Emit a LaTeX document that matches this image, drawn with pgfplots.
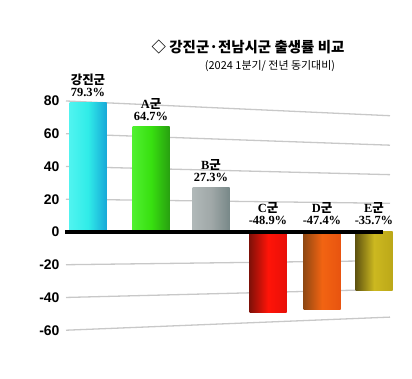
\documentclass[border=0pt]{standalone}
\usepackage{fontspec}
\usepackage{pgfplots}
\pgfplotsset{compat=1.18}
\setmainfont{Liberation Serif}
\setsansfont{Liberation Sans}
\newfontfamily\cjk{Noto Sans CJK KR}
\definecolor{gridc}{HTML}{C8C8C8}
\definecolor{cyL}{HTML}{50F4F0}
\definecolor{cyM}{HTML}{30ECE8}
\definecolor{cyR}{HTML}{18A8D8}
\definecolor{grL}{HTML}{50F030}
\definecolor{grM}{HTML}{38E010}
\definecolor{grR}{HTML}{28A010}
\definecolor{gyL}{HTML}{B0B8B8}
\definecolor{gyM}{HTML}{A0A8A8}
\definecolor{gyR}{HTML}{788888}
\definecolor{rdL}{HTML}{801008}
\definecolor{rdM}{HTML}{FF1408}
\definecolor{rdR}{HTML}{E81008}
\definecolor{orL}{HTML}{904812}
\definecolor{orM}{HTML}{F26412}
\definecolor{orR}{HTML}{E85410}
\definecolor{ylL}{HTML}{605410}
\definecolor{ylM}{HTML}{CCB820}
\definecolor{ylR}{HTML}{BCA818}
\begin{document}
\begin{tikzpicture}
\path[use as bounding box] (0,0) rectangle (412bp,379bp);
\begin{axis}[
  at={(65bp,40.6bp)}, anchor=south west,
  scale only axis, width=330bp, height=253.8bp,
  xmin=65, xmax=395, ymin=-65, ymax=90,
  axis line style={draw=none},
  xtick=\empty,
  ytick={-60,-40,-20,0,20,40,60,80},
  major tick length=0pt,
  yticklabel style={font=\fontsize{14}{14}\selectfont\sffamily\bfseries, xshift=-2bp},
  /pgf/number format/assume math mode=true,
  clip=false,
  ybar, bar width=37, bar shift=0pt,
]
% sloped grid lines
\foreach \v/\w in {80/71,60/53,40/35,20/17.5,-20/-17.5,-40/-35,-60/-52} {
  \edef\tmp{\noexpand\addplot[sharp plot, draw=gridc, line width=1.3bp, forget plot] coordinates {(66,\v) (390,\w)};}
  \tmp
}
\addplot[draw=none, left color=cyL, right color=cyR, middle color=cyM] coordinates {(88,79.3)};
\addplot[draw=none, left color=grL, right color=grR, middle color=grM] coordinates {(151,64.7)};
\addplot[draw=none, left color=gyL, right color=gyR, middle color=gyM] coordinates {(211,27.3)};
\addplot[draw=none, left color=rdL, right color=rdR, middle color=rdM] coordinates {(268,-48.9)};
\addplot[draw=none, left color=orL, right color=orR, middle color=orM] coordinates {(322,-47.4)};
\addplot[draw=none, left color=ylL, right color=ylR, middle color=ylM] coordinates {(374,-35.7)};
% zero line
\addplot[sharp plot, draw=black, line width=3.5bp] coordinates {(65,0) (383,0)};
\def\lf{\fontsize{12.5}{15.5}\selectfont\bfseries}
\node[anchor=south, align=center, inner sep=1bp, yshift=4bp] at (axis cs:88,79.3) {\lf{\cjk 강진군}\\\lf 79.3\%};
\node[anchor=south, align=center, inner sep=1bp, yshift=4bp] at (axis cs:151,64.7) {\lf A{\cjk 군}\\\lf 64.7\%};
\node[anchor=south, align=center, inner sep=1bp, yshift=4bp] at (axis cs:211,27.3) {\lf B{\cjk 군}\\\lf 27.3\%};
\node[anchor=south, align=center, inner sep=1bp] at (axis cs:268,3.5) {\lf C{\cjk 군}\\\lf -48.9\%};
\node[anchor=south, align=center, inner sep=1bp] at (axis cs:322,3.5) {\lf D{\cjk 군}\\\lf -47.4\%};
\node[anchor=south, align=center, inner sep=1bp] at (axis cs:374,3.5) {\lf E{\cjk 군}\\\lf -35.7\%};
\end{axis}
\node[anchor=base] at (248bp,326bp) {\cjk\bfseries\fontsize{14.5}{16}\selectfont ◇ 강진군·전남시군 출생률 비교};
\node[anchor=base] at (270bp,309bp) {\cjk\fontsize{11}{12}\selectfont (2024 1분기/ 전년 동기대비)};
\end{tikzpicture}
\end{document}
